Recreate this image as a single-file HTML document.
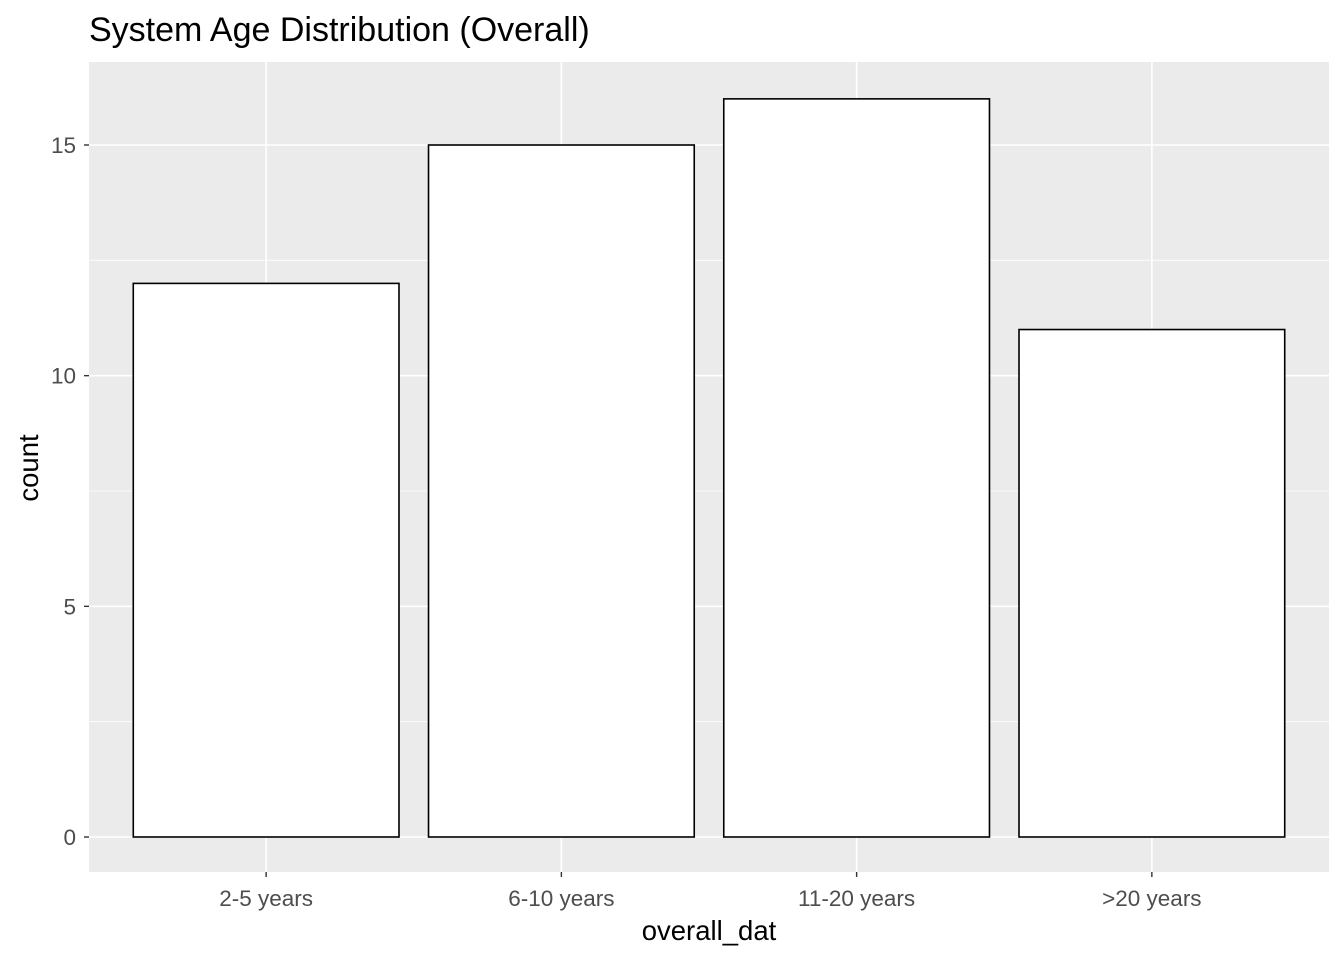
<!DOCTYPE html>
<html><head><meta charset="utf-8"><style>
html,body{margin:0;padding:0;background:#fff;}
svg{display:block;font-family:"Liberation Sans",Arial,sans-serif;}
</style></head><body>
<svg id="chart" width="1344" height="960" xmlns="http://www.w3.org/2000/svg">
<text x="89" y="41" font-size="34" fill="#000">System Age Distribution (Overall)</text>
<rect x="89" y="62" width="1240" height="810" fill="#ebebeb"/>
<g id="grid"></g>
<g id="bars"></g>
<g id="axes"></g>
<text x="709" y="940" font-size="27.5" text-anchor="middle" fill="#000">overall_dat</text>
<text transform="translate(38,468) rotate(-90)" font-size="27.5" text-anchor="middle" fill="#000">count</text>
</svg>
<script>
const categories = ["2-5 years","6-10 years","11-20 years",">20 years"];
const counts = [12,15,16,11];
const yTicks = [0,5,10,15];
const yMinor = [2.5,7.5,12.5];

const NS="http://www.w3.org/2000/svg";
const pL=89,pR=1329,pT=62,pB=872;
const y0=837,yPer=(837-145)/15;
const step=(pR-pL)/(categories.length+0.2);
function xc(i){return pL+step*(0.6+i);}
function ys(v){return y0-v*yPer;}
function mk(parent,tag,attrs){const e=document.createElementNS(NS,tag);for(const k in attrs)e.setAttribute(k,attrs[k]);document.getElementById(parent).appendChild(e);return e;}

yMinor.forEach(v=>{
  const l=mk('grid','line',{x1:pL,x2:pR,y1:ys(v),y2:ys(v),stroke:'#fff','stroke-width':0.8});
  
  
});
yTicks.forEach(v=>{
  const l=mk('grid','line',{x1:pL,x2:pR,y1:ys(v),y2:ys(v),stroke:'#fff','stroke-width':1.6});
  
  
  const t=mk('axes','line',{x1:pL-5,x2:pL,y1:ys(v),y2:ys(v),stroke:'#333','stroke-width':1.4});
  
  
  const tx=mk('axes','text',{x:76,y:ys(v)+8,'font-size':22.5,'text-anchor':'end',fill:'#4d4d4d'});
  tx.textContent=v;
  
  
});
categories.forEach((c,i)=>{
  const x=xc(i);
  const g=mk('grid','line',{x1:x,x2:x,y1:pT,y2:pB,stroke:'#fff','stroke-width':1.6});
  
  
  const w=step*0.9;
  const b=mk('bars','rect',{x:x-w/2,y:ys(counts[i]),width:w,height:ys(0)-ys(counts[i]),fill:'#fff',stroke:'#000','stroke-width':1.6});
  
  
  const t=mk('axes','line',{x1:x,x2:x,y1:pB,y2:pB+5,stroke:'#333','stroke-width':1.4});
  
  
  const tx=mk('axes','text',{x:x,y:906,'font-size':22.5,'text-anchor':'middle',fill:'#4d4d4d'});
  tx.textContent=c;
  
  
});
</script>
</body></html>
